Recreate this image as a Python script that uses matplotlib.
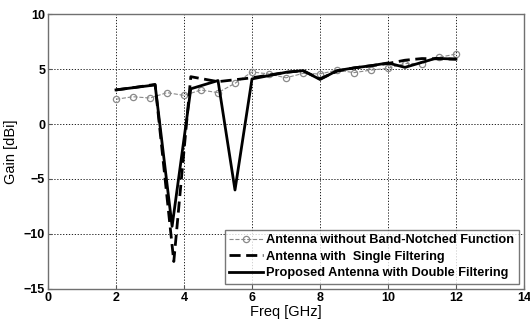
import matplotlib
matplotlib.use('Agg')
import matplotlib.pyplot as plt

plt.rcParams['font.family'] = ['Liberation Sans', 'DejaVu Sans']

# antenna without band-notched function
freq_ref = [2, 2.5, 3, 3.5, 4, 4.5, 5, 5.5, 6, 6.5, 7, 7.5, 8, 8.5, 9, 9.5, 10, 10.5, 11, 11.5, 12]
gain_ref = [2.25, 2.48, 2.36, 2.85, 2.6, 3.09, 2.85, 3.7, 4.73, 4.55, 4.2, 4.6, 4.55, 4.9, 4.67, 4.9, 5.06, 5.5, 5.5, 6.06, 6.36]

# single filtering
freq_single = [2, 2.5, 3.15, 3.7, 4.2, 5.0, 6.0, 7.0, 7.5, 8.0, 8.5, 9.0, 9.5, 10.0, 10.5, 11.0, 12.0]
gain_single = [3.1, 3.3, 3.6, -12.5, 4.3, 3.85, 4.2, 4.7, 4.85, 4.1, 4.8, 5.1, 5.3, 5.5, 5.8, 5.95, 5.9]

# double filtering (proposed)
freq_double = [2, 2.5, 3.15, 3.65, 4.2, 5.0, 5.5, 6.0, 7.0, 7.5, 8.0, 8.5, 9.0, 9.5, 10.0, 10.5, 11.4, 12.0]
gain_double = [3.1, 3.3, 3.55, -9.3, 3.2, 3.95, -6.0, 4.1, 4.7, 4.85, 4.05, 4.85, 5.1, 5.3, 5.55, 5.15, 5.97, 5.9]

fig = plt.figure(figsize=(5.3, 3.22), dpi=100)
ax = fig.add_axes([0.0906, 0.1025, 0.898, 0.854])

ax.plot(freq_ref, gain_ref, linestyle='--', color='#8a8a8a', linewidth=0.8,
        marker='o', markersize=4.5, markerfacecolor='none', markeredgecolor='#8a8a8a',
        markeredgewidth=0.9, label='Antenna without Band-Notched Function')
ax.plot(freq_single, gain_single, linestyle=(0, (4, 2)), color='black', linewidth=2.0,
        label='Antenna with  Single Filtering')
ax.plot(freq_double, gain_double, linestyle='-', color='black', linewidth=2.0,
        label='Proposed Antenna with Double Filtering')

ax.set_xlim(0, 14)
ax.set_ylim(-15, 10)
ax.set_xticks(range(0, 15, 2))
ax.set_yticks(range(-15, 11, 5))
ax.grid(True, linestyle=(0, (1.5, 2)), color='black', linewidth=0.6)
ax.tick_params(direction='in', length=3, labelsize=9, pad=2, color='#555555')
for lbl in ax.get_xticklabels() + ax.get_yticklabels():
    lbl.set_fontweight('bold')
for sp in ax.spines.values():
    sp.set_color('#707070')
    sp.set_linewidth(1.0)

ax.set_xlabel('Freq [GHz]', fontsize=10.5, labelpad=1)
ax.set_ylabel('Gain [dBi]', fontsize=10.5, labelpad=4)

leg = ax.legend(loc='lower right', prop={'weight': 'bold', 'size': 9.2},
                frameon=True, fancybox=False, edgecolor='#555555',
                handlelength=2.6, handletextpad=0.3, borderpad=0.35,
                labelspacing=0.35, borderaxespad=0.4)
leg.get_frame().set_linewidth(1.0)

fig.savefig('out.png', dpi=100)
